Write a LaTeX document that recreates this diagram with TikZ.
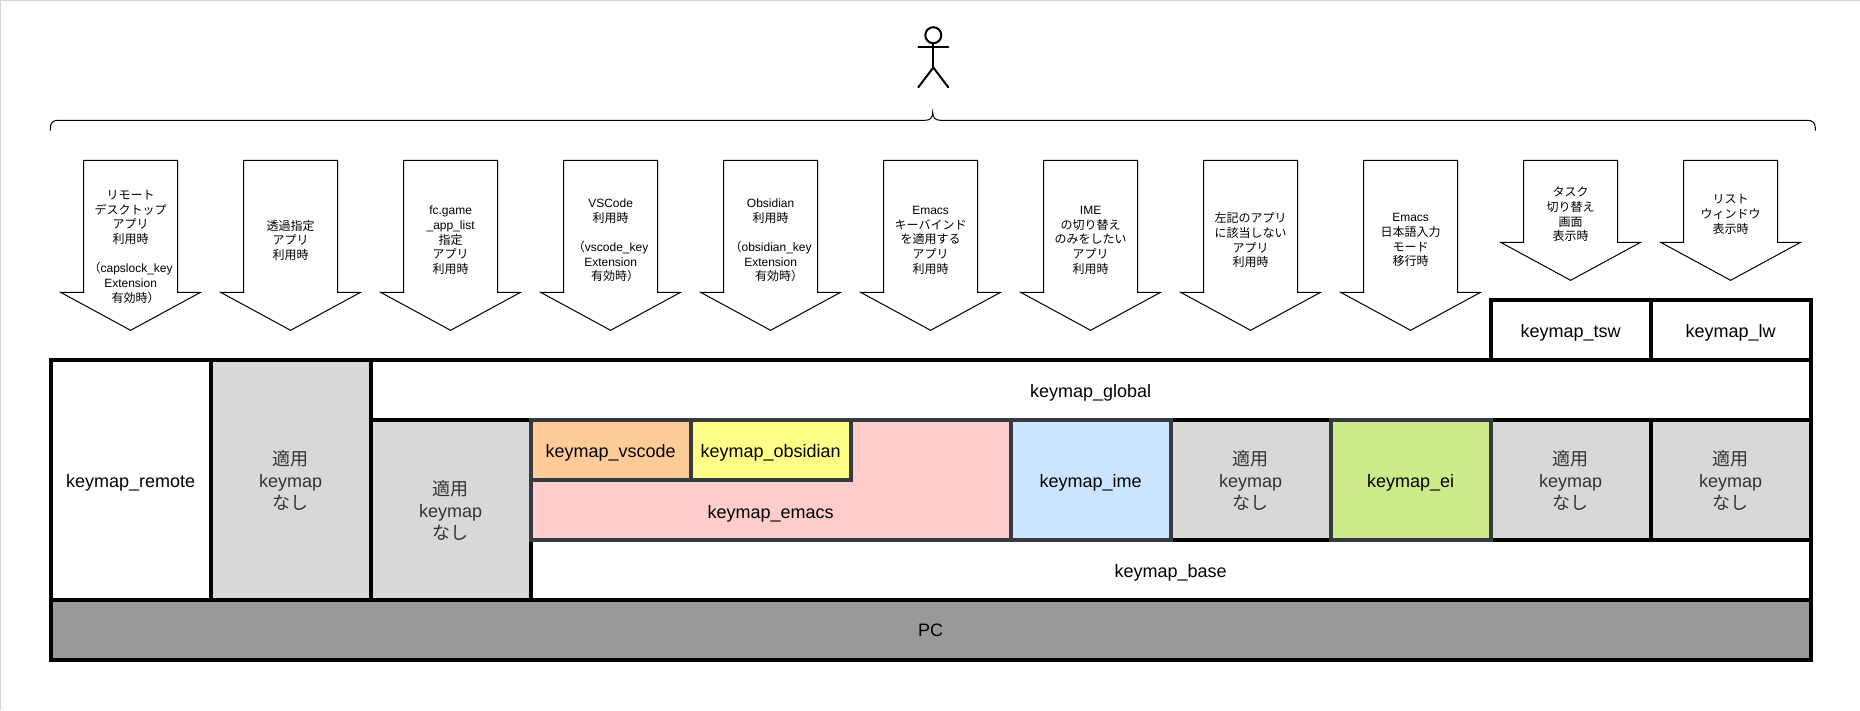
\documentclass[tikz,border=0pt]{standalone}
\usepackage{fontspec}
\setmainfont{Liberation Sans}
\newfontfamily\jp{Noto Sans CJK JP}
\definecolor{framegrey}{HTML}{D4D4D4}
\definecolor{noneGrey}{HTML}{D9D9D9}
\definecolor{noneText}{HTML}{333333}
\definecolor{pcGrey}{HTML}{999999}
\definecolor{darkEdge}{HTML}{36393D}
\definecolor{cVscode}{HTML}{FFCC99}
\definecolor{cObsidian}{HTML}{FFFF88}
\definecolor{cEmacs}{HTML}{FFCCCC}
\definecolor{cIme}{HTML}{CCE5FF}
\definecolor{cEi}{HTML}{CDEB8B}
\tikzset{
  layerbase/.style={draw=black,line width=3.8pt,fill=white,rectangle,inner sep=0pt,outer sep=0pt,
    align=center,font=\fontsize{18}{22}\selectfont,miter limit=10},
  layer/.style={layerbase,execute at begin node={\rule{0pt}{18pt}}},
  nonebox/.style={layer,fill=noneGrey,text=noneText},
  app/.style={layer,draw=darkEdge},
  arrowtext/.style={align=center,inner sep=0pt,font=\fontsize{12}{14.7}\selectfont},
  shape arrow/.style={draw=black,line width=1pt,fill=white,line join=miter},
  stick/.style={draw=black,line width=2pt,line cap=round}
}
\newcommand{\dnarrow}[3]{% centre x, shoulder y, tip y
  \path[shape arrow] (#1-47,160) -- (#1+47,160) -- (#1+47,#2) -- (#1+70,#2)
    -- (#1,#3) -- (#1-70,#2) -- (#1-47,#2) -- cycle;}
\newcommand{\nonelabel}{{\jp 適用}\\keymap\\{\jp なし}}
\begin{document}
\begin{tikzpicture}[x=1pt,y=-1pt]
\useasboundingbox (0,0) rectangle (1860,710);
\fill[white] (0,0) rectangle (1860,710);
\fill[framegrey] (0,0) rectangle (1860,1);
\fill[framegrey] (0,0) rectangle (1,710);

% actor
\draw[stick] (933.3,35.2) circle (8);
\draw[stick] (933.3,43.2) -- (933.3,67.5);
\draw[stick] (918.3,47.3) -- (948.3,47.3);
\draw[stick] (918.3,87.3) -- (933.3,67.5) -- (948.3,87.3);

% brace
\draw[black,line width=1pt] (50.3,130.7) -- (50.3,128)
  .. controls (50.3,123) and (53,120.3) .. (58,120.3)
  -- (925,120.3) .. controls (930,120.3) and (932.7,118) .. (932.7,112)
  .. controls (932.7,118) and (935.5,120.3) .. (940.5,120.3)
  -- (1807.5,120.3) .. controls (1812.5,120.3) and (1815.3,123) .. (1815.3,128)
  -- (1815.3,130.7);

\begin{scope}[shift={(0.6,0.3)}]
% arrows
\dnarrow{130}{292}{330}
\dnarrow{290}{292}{330}
\dnarrow{450}{292}{330}
\dnarrow{610}{292}{330}
\dnarrow{770}{292}{330}
\dnarrow{930}{292}{330}
\dnarrow{1090}{292}{330}
\dnarrow{1250}{292}{330}
\dnarrow{1410}{292}{330}
\dnarrow{1570}{242}{280}
\dnarrow{1730}{242}{280}

\node[arrowtext] (a1) at (130,246.5) {{\jp リモート}\\{\jp デスクトップ}\\{\jp アプリ}\\{\jp 利用時}\\~\\{\jp （}capslock\_key\hspace*{5pt}\\Extension\\\hspace*{10pt}{\jp 有効時）}};
\node[arrowtext] (a2) at (290,240) {{\jp 透過指定}\\{\jp アプリ}\\{\jp 利用時}};
\node[arrowtext] (a3) at (450,240) {fc.game\\\_app\_list\\{\jp 指定}\\{\jp アプリ}\\{\jp 利用時}};
\node[arrowtext] (a4) at (610,240) {VSCode\\{\jp 利用時}\\~\\{\jp （}vscode\_key\hspace*{5pt}\\Extension\\\hspace*{9pt}{\jp 有効時）}};
\node[arrowtext] (a5) at (770,240) {Obsidian\\{\jp 利用時}\\~\\{\jp （}obsidian\_key\hspace*{5pt}\\Extension\\\hspace*{17pt}{\jp 有効時）}};
\node[arrowtext] (a6) at (930,240) {Emacs\\{\jp キーバインド}\\{\jp を適用する}\\{\jp アプリ}\\{\jp 利用時}};
\node[arrowtext] (a7) at (1090,240) {IME\\{\jp の切り替え}\\{\jp のみをしたい}\\{\jp アプリ}\\{\jp 利用時}};
\node[arrowtext] (a8) at (1250,240) {{\jp 左記のアプリ}\\{\jp に該当しない}\\{\jp アプリ}\\{\jp 利用時}};
\node[arrowtext] (a9) at (1410,240) {Emacs\\{\jp 日本語入力}\\{\jp モード}\\{\jp 移行時}};
\node[arrowtext] (a10) at (1570,214.2) {{\jp タスク}\\{\jp 切り替え}\\{\jp 画面}\\{\jp 表示時}};
\node[arrowtext] (a11) at (1730,214.2) {{\jp リスト}\\{\jp ウィンドウ}\\{\jp 表示時}};

% layers
\node[layer,minimum width=160pt,minimum height=60pt] (tsw) at (1570,330) {keymap\_tsw};
\node[layer,minimum width=160pt,minimum height=60pt] (lw) at (1730,330) {keymap\_lw};
\node[layer,minimum width=1440pt,minimum height=60pt] (global) at (1090,390) {keymap\_global};
\node[layer,minimum width=160pt,minimum height=240pt] (remote) at (130,480) {keymap\_remote};
\node[nonebox,minimum width=160pt,minimum height=240pt] (none1) at (290,480) {\nonelabel};
\node[nonebox,minimum width=160pt,minimum height=180pt] (none2) at (450,510) {\nonelabel};
\node[layer,minimum width=1280pt,minimum height=60pt] (base) at (1170,570) {keymap\_base};
\node[nonebox,minimum width=160pt,minimum height=120pt] (none3) at (1250,480) {\nonelabel};
\node[nonebox,minimum width=160pt,minimum height=120pt] (none4) at (1570,480) {\nonelabel};
\node[nonebox,minimum width=160pt,minimum height=120pt] (none5) at (1730,480) {\nonelabel};
\node[layerbase,fill=pcGrey,minimum width=1760pt,minimum height=60pt] (pc) at (930,630) {PC};
\node[layerbase,draw=darkEdge,fill=cEmacs,minimum width=480pt,minimum height=120pt] (emacs) at (770,480) {};
\node[inner sep=0pt,font=\fontsize{18}{22}\selectfont] (emacstext) at (770,514) {keymap\_emacs};
\node[app,fill=cVscode,minimum width=160pt,minimum height=60pt] (vscode) at (610,450) {keymap\_vscode};
\node[app,fill=cObsidian,minimum width=160pt,minimum height=60pt] (obsidian) at (770,450) {keymap\_obsidian};
\node[app,fill=cIme,minimum width=160pt,minimum height=120pt] (ime) at (1090,480) {keymap\_ime};
\node[app,fill=cEi,minimum width=160pt,minimum height=120pt] (ei) at (1410,480) {keymap\_ei};
\end{scope}
\end{tikzpicture}
\end{document}
